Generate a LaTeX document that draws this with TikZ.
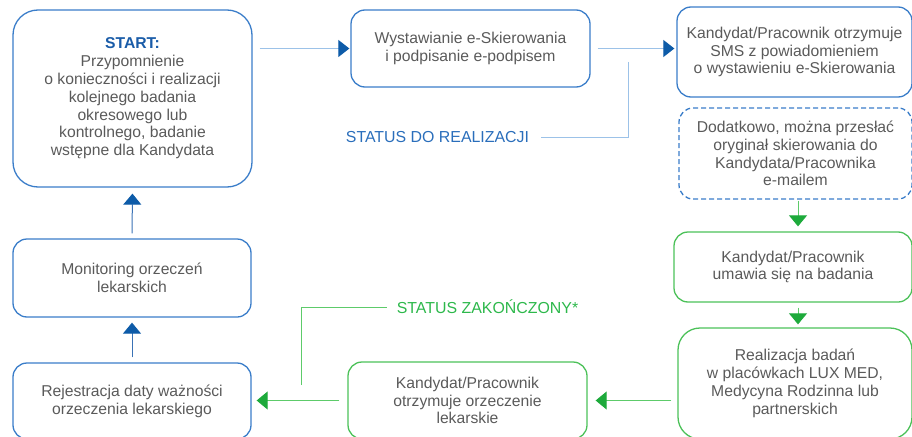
\documentclass[tikz,border=0pt]{standalone}
\usepackage{fontspec}
\setmainfont{Liberation Sans}
\usetikzlibrary{arrows.meta}
\definecolor{boxblue}{HTML}{3A7DC9}
\definecolor{lineblue}{HTML}{9CC2E8}
\definecolor{vlineblue}{HTML}{3A72B5}
\definecolor{tipblue}{HTML}{0D5BA8}
\definecolor{startblue}{HTML}{1A5CA8}
\definecolor{statblue}{HTML}{2A6EBB}
\definecolor{boxgreen}{HTML}{4CC159}
\definecolor{linegreen}{HTML}{5DCB6A}
\definecolor{tipgreen}{HTML}{1DAA3B}
\definecolor{statgreen}{HTML}{2DB84B}
\definecolor{txtgray}{HTML}{5A5A5A}
\tikzset{
  base/.style={draw, line width=1.3pt, align=center, text=txtgray, inner sep=2pt,
    font=\fontsize{15.7}{17.8}\selectfont},
  bluebox/.style={base, draw=boxblue, rounded corners=14pt},
  greenbox/.style={base, draw=boxgreen, rounded corners=14pt},
  dashbox/.style={base, draw=boxblue, dash pattern=on 5pt off 3pt, rounded corners=14pt},
  conblue/.style={draw=lineblue, line width=1pt,
    -{Triangle[length=11pt,width=17pt,color=tipblue]}},
  convblue/.style={draw=vlineblue, line width=1pt,
    -{Triangle[length=11pt,width=18pt,color=tipblue]}},
  congreen/.style={draw=linegreen, line width=1pt,
    -{Triangle[length=11pt,width=18pt,color=tipgreen]}},
  statlbl/.style={inner sep=0pt, font=\fontsize{15.9}{18}\selectfont},
}
\begin{document}
\begin{tikzpicture}[x=1pt,y=-1pt]
\useasboundingbox (0,0) rectangle (912,436);
\clip (0,0) rectangle (912,436);

\node[bluebox, rounded corners=25pt, minimum width=239pt, minimum height=177pt] (start) at (132.5,98.5)
  {\textcolor{startblue}{\textbf{START:}}\\Przypomnienie\\o konieczności i realizacji\\kolejnego badania\\okresowego lub\\kontrolnego, badanie\\wstępne dla Kandydata};
\node[bluebox, minimum width=239pt, minimum height=77pt] (wyst) at (470.5,48.5)
  {Wystawianie e-Skierowania\\i podpisanie e-podpisem};
\node[bluebox, minimum width=235pt, minimum height=90pt] (sms) at (794.5,52)
  {Kandydat/Pracownik otrzymuje\\SMS z powiadomieniem\\o wystawieniu e-Skierowania};
\node[dashbox, minimum width=233pt, minimum height=91pt] (mail) at (795.5,153.5)
  {Dodatkowo, można przesłać\\oryginał skierowania do\\Kandydata/Pracownika\\e-mailem};
\node[greenbox, minimum width=238pt, minimum height=70pt] (umawia) at (793,267)
  {Kandydat/Pracownik\\umawia się na badania};
\node[greenbox, rounded corners=22pt, minimum width=234pt, minimum height=111pt] (realiz) at (795,383.5)
  {Realizacja badań\\w placówkach LUX MED,\\Medycyna Rodzinna lub\\partnerskich};
\node[greenbox, minimum width=239pt, minimum height=77pt] (otrzym) at (467.5,400.5)
  {Kandydat/Pracownik\\otrzymuje orzeczenie\\lekarskie};
\node[bluebox, minimum width=238pt, minimum height=76pt] (rejestr) at (132,401)
  {Rejestracja daty ważności\\orzeczenia lekarskiego};
\node[bluebox, minimum width=238pt, minimum height=78pt] (monit) at (132,278)
  {Monitoring orzeczeń\\lekarskich};

\node[statlbl, text=statblue] (lblreal) at (437.5,137) {STATUS DO REALIZACJI};
\node[statlbl, text=statgreen] (lblzak) at (487.5,307) {STATUS ZAKOŃCZONY*};
\coordinate (r1) at (628,62);
\coordinate (z1) at (301,385);

% connectors
\draw[conblue, shorten <=7pt, shorten >=1pt] (start.east |- wyst.west) -- (wyst.west);
\draw[conblue, shorten <=7pt, shorten >=2pt] (wyst.east) -- (wyst.east -| sms.west);
\draw[draw=lineblue, line width=1pt, shorten >=12pt] (r1) |- (lblreal.east);
\draw[congreen, shorten <=1pt, shorten >=5pt] ([xshift=2.5pt]mail.south) -- ([xshift=2.5pt]mail.south |- umawia.north);
\draw[congreen, shorten <=5pt, shorten >=3pt] ([xshift=5pt]umawia.south) -- ([xshift=5pt]umawia.south |- realiz.north);
\draw[congreen, shorten <=6pt, shorten >=8pt] (realiz.west |- otrzym.east) -- (otrzym.east);
\draw[congreen, shorten <=8pt, shorten >=5pt] (otrzym.west) -- (otrzym.west -| rejestr.east);
\draw[draw=linegreen, line width=1pt, shorten >=10pt] (z1) |- (lblzak.west);
\draw[convblue, shorten <=5pt, shorten >=5pt] (rejestr.north) -- (monit.south);
\draw[convblue, shorten <=5pt, shorten >=6pt] (monit.north) -- (start.south);
\end{tikzpicture}
\end{document}
